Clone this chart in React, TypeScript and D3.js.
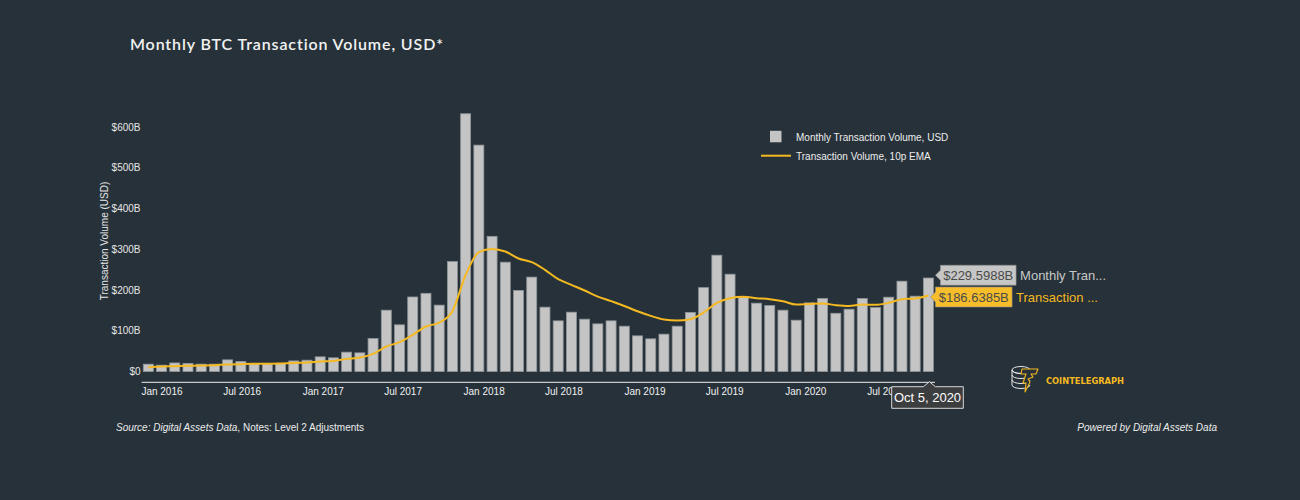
import React, { useEffect, useRef } from 'react';
import * as d3 from 'd3';

// 30-day periods, last one ending Oct 5, 2020
const periodDates = [
  '2015-12-01', '2015-12-31', '2016-01-30', '2016-02-29', '2016-03-30', '2016-04-29',
  '2016-05-29', '2016-06-28', '2016-07-28', '2016-08-27', '2016-09-26', '2016-10-26',
  '2016-11-25', '2016-12-25', '2017-01-24', '2017-02-23', '2017-03-25', '2017-04-24',
  '2017-05-24', '2017-06-23', '2017-07-23', '2017-08-22', '2017-09-21', '2017-10-21',
  '2017-11-20', '2017-12-20', '2018-01-19', '2018-02-18', '2018-03-20', '2018-04-19',
  '2018-05-19', '2018-06-18', '2018-07-18', '2018-08-17', '2018-09-16', '2018-10-16',
  '2018-11-15', '2018-12-15', '2019-01-14', '2019-02-13', '2019-03-15', '2019-04-14',
  '2019-05-14', '2019-06-13', '2019-07-13', '2019-08-12', '2019-09-11', '2019-10-11',
  '2019-11-10', '2019-12-10', '2020-01-09', '2020-02-08', '2020-03-09', '2020-04-08',
  '2020-05-08', '2020-06-07', '2020-07-07', '2020-08-06', '2020-09-05', '2020-10-05',
];

// Monthly transaction volume, billions USD
const monthlyVolume = [
  18, 15.5, 21, 20, 18, 18, 28.6, 24.6, 20, 20, 20, 26,
  27.8, 36, 33.6, 47.5, 45.8, 81, 150.6, 114.6, 183, 192, 163, 270,
  633, 556, 332, 268.5, 199, 231.8, 158, 124.4, 145.7, 128.5, 117, 124.4,
  111.3, 87.6, 80.2, 91.7, 111.3, 145, 206, 285.7, 239, 184, 167.8, 162,
  150.6, 126, 168.6, 179.3, 143, 153, 179.3, 157, 182.5, 221.8, 185, 229.5988,
];

// 10-period EMA, billions USD
const emaVolume = [
  10.6, 12, 13, 14, 14.7, 15.5, 17, 18, 18.8, 18.8, 19.6, 21,
  22, 24.6, 26, 31, 34.4, 43.4, 61.4, 72, 90, 110.5, 120, 148,
  237, 293, 301, 294.7, 277.5, 268.5, 249.7, 226.8, 212.8, 199, 184, 172.7,
  161, 148, 136.7, 127.7, 125, 128.5, 145, 168.6, 180, 183.4, 180, 177.6,
  172.7, 164.5, 166, 167, 163, 161, 164.5, 163.7, 168.6, 177.6, 179.3, 186.6385,
];

const xTickDates = [
  '2016-01-01', '2016-07-01', '2017-01-01', '2017-07-01', '2018-01-01',
  '2018-07-01', '2019-01-01', '2019-07-01', '2020-01-01', '2020-07-01',
];
const yTicks = [0, 100, 200, 300, 400, 500, 600];

const BG = '#263139';
const BAR = '#c4c4c4';
const GOLD = '#f5b921';
const FONT = '"Liberation Sans", Arial, sans-serif';

const App: React.FC = () => {
  const ref = useRef<SVGSVGElement | null>(null);

  useEffect(() => {
    if (!ref.current) return;
    const svg = d3.select(ref.current);
    svg.selectAll('*').remove();

    const parse = d3.timeParse('%Y-%m-%d');
    const dates = periodDates.map(d => parse(d) as Date);
    const data = dates.map((date, i) => ({ date, vol: monthlyVolume[i], ema: emaVolume[i] }));
    const last = data[data.length - 1];

    const x = d3
      .scaleTime()
      .domain([d3.timeDay.offset(dates[0], -15), d3.timeDay.offset(last.date, 15)])
      .range([141.7, 935]);
    const y = d3.scaleLinear().domain([0, 600]).range([371.5, 127.2]);

    svg.append('rect').attr('width', 1300).attr('height', 500).attr('fill', BG);

    // Title
    svg
      .append('text')
      .attr('x', 130)
      .attr('y', 49.5)
      .attr('fill', '#f2f2f2')
      .attr('font-family', 'Lato, sans-serif')
      .attr('font-weight', 600)
      .attr('font-size', 16)
      .attr('textLength', 313)
      .attr('lengthAdjust', 'spacing')
      .style('font-variant-ligatures', 'none')
      .style('font-feature-settings', '"liga" 0')
      .text('Monthly BTC Transaction Volume, USD*');

    // Y axis labels
    const yAxis = svg.append('g').attr('font-family', FONT).attr('font-size', 10).attr('fill', '#e6e6e6');
    yAxis
      .selectAll('text')
      .data(yTicks)
      .enter()
      .append('text')
      .attr('x', 140.5)
      .attr('y', d => y(d))
      .attr('dy', '0.35em')
      .attr('text-anchor', 'end')
      .text(d => (d === 0 ? '$0' : `$${d}B`));

    svg
      .append('text')
      .attr('transform', 'translate(107.5,241) rotate(-90)')
      .attr('text-anchor', 'middle')
      .attr('font-family', FONT)
      .attr('font-size', 10)
      .attr('fill', '#e6e6e6')
      .text('Transaction Volume (USD)');

    // Bars
    const bw = 10;
    svg
      .append('g')
      .selectAll('rect')
      .data(data)
      .enter()
      .append('rect')
      .attr('x', d => x(d.date) - bw / 2)
      .attr('y', d => y(d.vol))
      .attr('width', bw)
      .attr('height', d => y(0) - y(d.vol))
      .attr('fill', BAR)
      .attr('stroke', '#8f9498')
      .attr('stroke-width', 0.8);

    // EMA line
    const line = d3
      .line<{ date: Date; ema: number }>()
      .x(d => x(d.date))
      .y(d => y(d.ema))
      .curve(d3.curveMonotoneX);
    svg
      .append('path')
      .datum(data)
      .attr('fill', 'none')
      .attr('stroke', GOLD)
      .attr('stroke-width', 2)
      .attr('d', line);

    // X axis
    svg
      .append('line')
      .attr('x1', x.range()[0])
      .attr('x2', x.range()[1])
      .attr('y1', 382.3)
      .attr('y2', 382.3)
      .attr('stroke', '#f0f0f0')
      .attr('stroke-width', 1);
    svg
      .append('g')
      .attr('font-family', FONT)
      .attr('font-size', 10)
      .attr('fill', '#f0f0f0')
      .selectAll('text')
      .data(xTickDates.map(d => parse(d) as Date))
      .enter()
      .append('text')
      .attr('x', d => x(d))
      .attr('y', 391)
      .attr('dy', '0.35em')
      .attr('text-anchor', 'middle')
      .text(d => d3.timeFormat('%b %Y')(d));

    // Legend
    const lg = svg.append('g').attr('font-family', FONT).attr('font-size', 10).attr('fill', '#ececec');
    lg.append('rect').attr('x', 770).attr('y', 130.8).attr('width', 11.5).attr('height', 11.5).attr('fill', BAR);
    lg.append('text').attr('x', 796).attr('y', 137).attr('dy', '0.35em').text('Monthly Transaction Volume, USD');
    lg.append('line').attr('x1', 761).attr('x2', 791).attr('y1', 155.7).attr('y2', 155.7).attr('stroke', GOLD).attr('stroke-width', 2);
    lg.append('text').attr('x', 796).attr('y', 156).attr('dy', '0.35em').text('Transaction Volume, 10p EMA');

    // Value tooltips at the last point
    const lx = x(last.date);
    const yellowC = y(last.ema) + 1.5;
    const grayC = yellowC - 21.8;
    const tip = (tx: number, cy: number, w: number, fill: string, label: string, name: string, nameFill: string) => {
      const g = svg.append('g');
      const bx = tx + 5;
      g.append('path')
        .attr(
          'd',
          `M${tx},${cy} L${bx},${cy - 5} L${bx},${cy - 10} L${bx + w},${cy - 10} L${bx + w},${cy + 10} L${bx},${cy + 10} L${bx},${cy + 5} Z`,
        )
        .attr('fill', fill)
        .attr('stroke', '#8a8a8a')
        .attr('stroke-width', 0.6);
      g.append('text')
        .attr('x', bx + w / 2)
        .attr('y', cy)
        .attr('dy', '0.36em')
        .attr('text-anchor', 'middle')
        .attr('font-family', FONT)
        .attr('font-size', 13)
        .attr('fill', '#4a4a4a')
        .text(label);
      g.append('text')
        .attr('x', bx + w + 4)
        .attr('y', cy)
        .attr('dy', '0.36em')
        .attr('font-family', FONT)
        .attr('font-size', 13)
        .attr('fill', nameFill)
        .text(name);
    };
    tip(lx + 7, grayC, 75.7, '#c6c6c6', `$${last.vol.toFixed(4)}B`, 'Monthly Tran...', '#c8c8c8');
    tip(lx + 2, yellowC, 76.7, '#f7bd2a', `$${last.ema.toFixed(4)}B`, 'Transaction ...', GOLD);

    // Date tooltip under the axis
    const dg = svg.append('g');
    const dcx = lx + 1;
    dg.append('path')
      .attr(
        'd',
        `M${dcx},381.7 L${dcx + 6},386.7 L963.3,386.7 L963.3,408.3 L891.7,408.3 L891.7,386.7 L${dcx - 6},386.7 Z`,
      )
      .attr('fill', '#3b3d3f')
      .attr('stroke', '#d8d8d8')
      .attr('stroke-width', 1);
    dg.append('text')
      .attr('x', 927.5)
      .attr('y', 397.5)
      .attr('dy', '0.36em')
      .attr('text-anchor', 'middle')
      .attr('font-family', FONT)
      .attr('font-size', 13)
      .attr('fill', '#ffffff')
      .text(d3.timeFormat('%b %-d, %Y')(last.date));

    // Cointelegraph logo
    const logo = svg.append('g').attr('transform', 'translate(1012,366)');
    [0, 5, 10, 15].forEach(dy => {
      logo
        .append('path')
        .attr('d', `M0,${dy + 4} a9,3.5 0 0 0 18,0`)
        .attr('fill', 'none')
        .attr('stroke', '#e8e8e8')
        .attr('stroke-width', 1);
    });
    logo.append('ellipse').attr('cx', 9).attr('cy', 4).attr('rx', 9).attr('ry', 3.5).attr('fill', 'none').attr('stroke', '#e8e8e8').attr('stroke-width', 1);
    logo.append('line').attr('x1', 0).attr('x2', 0).attr('y1', 4).attr('y2', 19).attr('stroke', '#e8e8e8');
    logo
      .append('path')
      .attr('d', 'M10,3 L26,3 L24,8 L19,8 L21,11 L16,13 L18,16 L13,26 L14,17 L11,17 L14,8 L9,8 Z')
      .attr('fill', BG)
      .attr('stroke', GOLD)
      .attr('stroke-width', 1.1)
      .attr('stroke-linejoin', 'round');
    svg
      .append('text')
      .attr('x', 1046)
      .attr('y', 380.7)
      .attr('dy', '0.36em')
      .attr('font-family', '"DejaVu Sans", sans-serif')
      .attr('font-weight', 700)
      .attr('font-size', 8)
      .attr('textLength', 78)
      .attr('lengthAdjust', 'spacingAndGlyphs')
      .attr('fill', GOLD)
      .text('COINTELEGRAPH');

    // Footer
    const src = svg
      .append('text')
      .attr('x', 116)
      .attr('y', 427)
      .attr('dy', '0.35em')
      .attr('font-family', FONT)
      .attr('font-size', 10)
      .attr('fill', '#ececec');
    src.append('tspan').attr('font-style', 'italic').text('Source: Digital Assets Data');
    src.append('tspan').text(', Notes: Level 2 Adjustments');
    svg
      .append('text')
      .attr('x', 1217)
      .attr('y', 427)
      .attr('dy', '0.35em')
      .attr('text-anchor', 'end')
      .attr('font-family', FONT)
      .attr('font-size', 10)
      .attr('font-style', 'italic')
      .attr('fill', '#ececec')
      .text('Powered by Digital Assets Data');
  }, []);

  return <svg ref={ref} width={1300} height={500} style={{ position: 'absolute', left: 0, top: 0 }} />;
};

export default App;
